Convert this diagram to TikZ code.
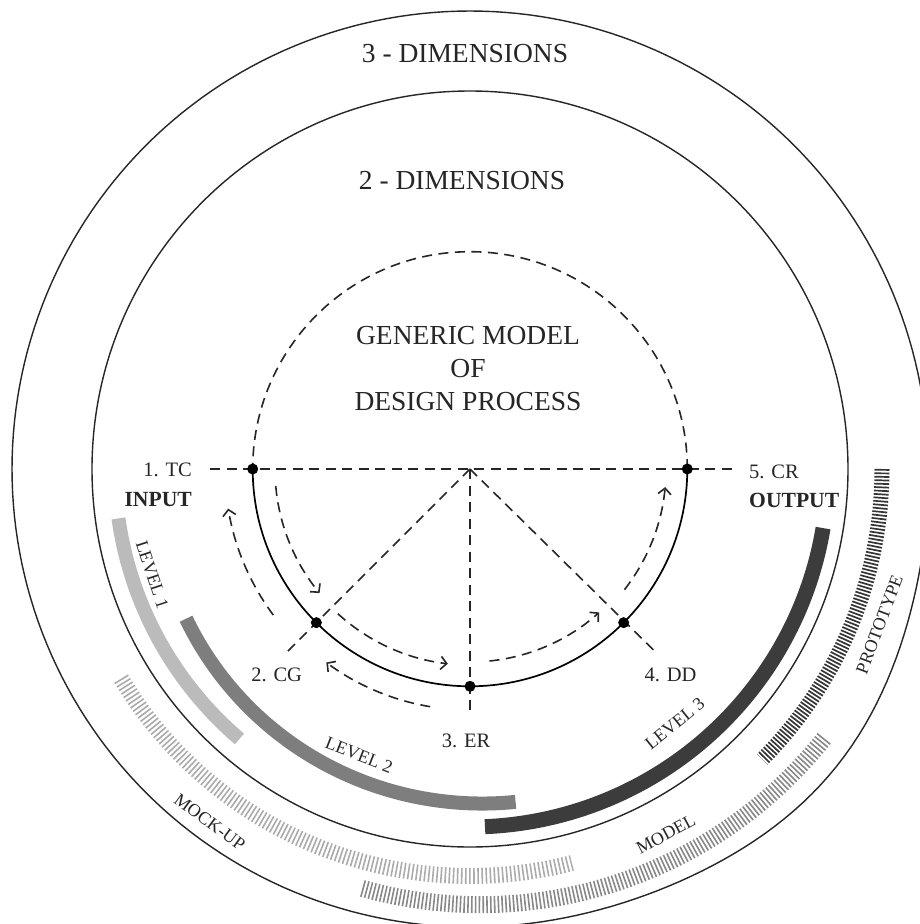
\documentclass[tikz,border=0pt]{standalone}
\usepackage{fontspec}
\setmainfont{Liberation Serif}
\usetikzlibrary{arrows.meta}
\definecolor{txt}{HTML}{262626}
\definecolor{levone}{HTML}{BBBBBB}
\definecolor{levtwo}{HTML}{7E7E7E}
\definecolor{levthree}{HTML}{3C3C3C}
\definecolor{tmock}{HTML}{ABABAB}
\definecolor{tmodel}{HTML}{888888}
\definecolor{tproto}{HTML}{353535}
\begin{document}
\begin{tikzpicture}[x=1pt,y=1pt,
  ring/.style={line width=1.4pt, draw=black!85},
  dsh/.style={line width=1.6pt, dash pattern=on 10pt off 6.5pt, draw=black!85},
  darr/.style={dsh, -{Straight Barb[length=6pt,width=13pt]}},
  dot/.style={circle, fill=black, inner sep=0pt, minimum size=11pt},
  lbl/.style={text=txt, font=\fontsize{20.5}{24}\selectfont, inner sep=0pt},
  blbl/.style={text=txt, font=\fontsize{21.6}{26}\selectfont\bfseries, inner sep=0pt},
  titl/.style={text=txt, font=\fontsize{27.5}{32.85}\selectfont, inner sep=0pt, align=center},
  arclbl/.style={text=txt, font=\fontsize{18}{21}\selectfont, inner sep=0pt},
  bar/.style={line width=14pt},
  ticks/.style={line width=16pt, dash pattern=on 1.6pt off 2.5pt},
]
\useasboundingbox (0,0) rectangle (920,-924);
\fill[white] (0,0) rectangle (920,-924);
\begin{scope}[shift={(470,-469)}]
  % rings
  \draw[ring] plot[domain=-180:180, samples=241, variable=\t] (\t:{458+14*exp(-((\t+40)/22)^2)}) -- cycle;
  \draw[ring] (0,0) circle[radius=378pt];
  % level bars
  \draw[bar, draw=levone] plot[domain=188:229.5, samples=60, variable=\t] (\t:355);
  \draw[bar, draw=levtwo] plot[domain=207.8:277.8, samples=80, variable=\t] (\t:{321+15*(\t-207.8)/70});
  \draw[bar, draw=levthree, line width=15pt] plot[domain=-9.5:-87.6, samples=80, variable=\t] (\t:358);
  % tick bands
  \draw[ticks, draw=tmock] plot[domain=211:284.5, samples=90, variable=\t] (\t:407);
  \draw[ticks, draw=tmodel, line width=17pt, dash pattern=on 1.6pt off 2.2pt] plot[domain=255.6:323, samples=90, variable=\t] (\t:{433+12*(\t-255.6)/67.4});
  \draw[ticks, draw=tproto, line width=15pt, dash pattern=on 1.7pt off 1.8pt] plot[domain=0:-44.8, samples=60, variable=\t] (\t:412);
  % generic model circle
  \coordinate (ctr) at (0,0);
  \draw[dsh] (0:217.3pt) arc[start angle=0, end angle=180, radius=217.3pt];
  \draw[line width=1.7pt] (180:217.3pt) arc[start angle=180, end angle=360, radius=217.3pt];
  \coordinate (hl) at (-260,0);
  \coordinate (hr) at (263,0);
  \coordinate (rcg) at (225:261pt);
  \coordinate (rer) at (270:247pt);
  \coordinate (rdd) at (-44.6:260pt);
  \draw[dsh] (hl) -- (hr);
  \draw[dsh] (ctr) -- (rcg);
  \draw[dsh] (ctr) -- (rer);
  \draw[dsh] (ctr) -- (rdd);
  % dashed arrows
  \draw[darr] (185:195pt) arc[start angle=185, end angle=219.5, radius=195pt];
  \draw[darr] (216.6:245pt) arc[start angle=216.6, end angle=189.3, radius=245pt];
  \draw[darr] (227.6:196pt) arc[start angle=227.6, end angle=263.5, radius=196pt];
  \draw[darr] (260.5:241pt) arc[start angle=260.5, end angle=233.4, radius=241pt];
  \draw[darr] (-84.2:193pt) arc[start angle=-84.2, end angle=-48, radius=193pt];
  \draw[darr] (-38:196pt) arc[start angle=-38, end angle=-5.3, radius=196pt];
  % dots
  \node[dot] (tc) at (180:217.3pt) {};
  \node[dot] (cg) at (225:217.3pt) {};
  \node[dot] (er) at (270:217.3pt) {};
  \node[dot] (dd) at (315:217.3pt) {};
  \node[dot] (cr) at (0:217.3pt) {};
  % arc labels
  \node[arclbl, rotate=-71.6] (l1) at (198.4:335pt) {LEVEL 1};
  \node[arclbl, rotate=-21.2] (l2) at (248.8:307pt) {LEVEL 2};
  \node[arclbl, rotate=38.8] (l3) at (-51.2:327pt) {LEVEL 3};
  \node[arclbl, rotate=-36.4] (mock) at (233.6:438.7pt) {MOCK-UP};
  \node[arclbl, rotate=28.2] (model) at (-61.8:414.6pt) {MODEL};
  \node[arclbl, rotate=69.2] (proto) at (-20.8:438pt) {PROTOTYPE};
\end{scope}
% titles
\node[titl] (t3) at (465,-54) {3 - DIMENSIONS};
\node[titl] (t2) at (462,-181) {2 - DIMENSIONS};
\node[titl] (gm) at (468,-368.3) {GENERIC MODEL\\OF\\DESIGN PROCESS};
% step labels
\node[lbl, anchor=east] (ltc) at (192,-470) {1. TC};
\node[blbl, anchor=east] (lin) at (192,-500) {INPUT};
\node[lbl, anchor=west] (lcr) at (749,-471.5) {5. CR};
\node[blbl, anchor=west] (lout) at (749,-500) {OUTPUT};
\node[lbl] (lcg) at (276.7,-675) {2. CG};
\node[lbl] (ler) at (466,-741) {3. ER};
\node[lbl] (ldd) at (670.5,-675) {4. DD};
\end{tikzpicture}
\end{document}
